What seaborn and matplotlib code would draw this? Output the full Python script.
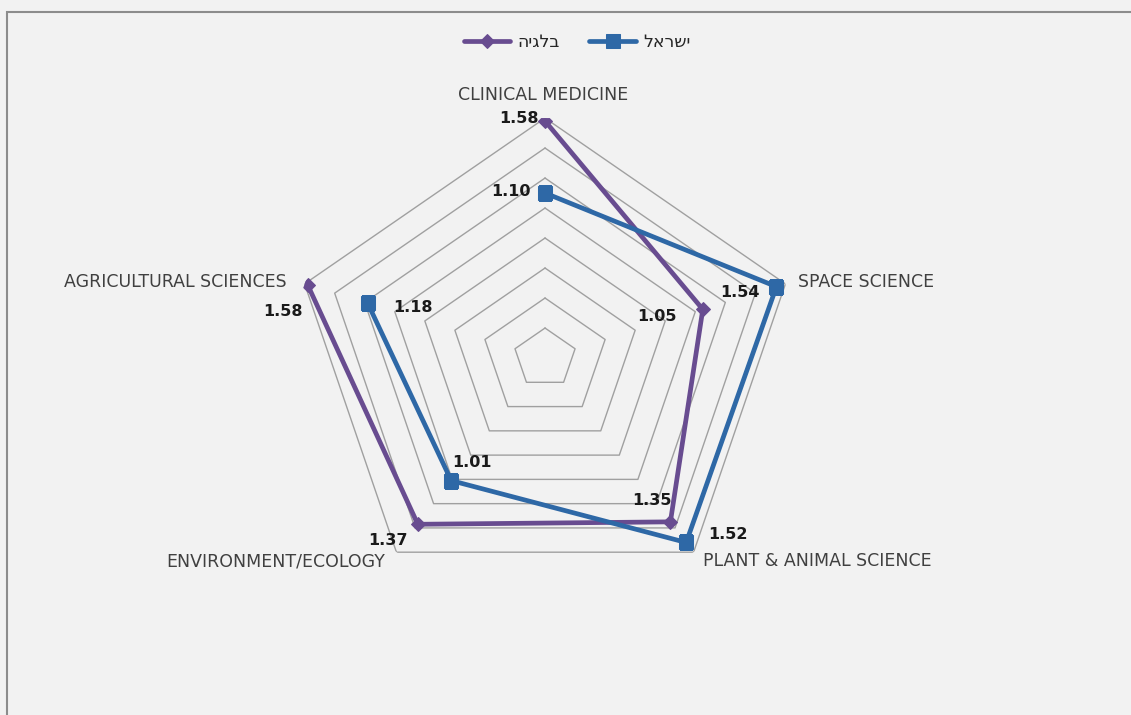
import numpy as np
import matplotlib
matplotlib.use('Agg')
import matplotlib.pyplot as plt
import matplotlib.patches as mpatches
import seaborn as sns

categories = ['CLINICAL MEDICINE', 'SPACE SCIENCE', 'PLANT & ANIMAL SCIENCE',
              'ENVIRONMENT/ECOLOGY', 'AGRICULTURAL SCIENCES']
belgium = [1.58, 1.05, 1.35, 1.37, 1.58]
israel = [1.10, 1.54, 1.52, 1.01, 1.18]
series_names = ['בלגיה', 'ישראל']
ring_levels = [0.2, 0.4, 0.6, 0.8, 1.0, 1.2, 1.4, 1.6]

sns.set_theme(style='white')
plt.rcParams['font.family'] = ['DejaVu Sans']

bg = '#f2f2f2'
purple = '#684c90'
blue = '#2e68a6'

fig = plt.figure(figsize=(11.31, 7.15), dpi=100, facecolor=bg)
ax = fig.add_axes([0.2584, 0.1636, 0.4470, 0.6713], projection='polar')
ax.set_aspect('auto')
ax.set_theta_offset(np.pi / 2)
ax.set_theta_direction(-1)
ax.patch.set_alpha(0)

n = len(categories)
theta = np.arange(n) * 2 * np.pi / n
theta_c = np.append(theta, theta[0])

# polygon rings
for lev in ring_levels:
    ax.plot(theta_c, [lev] * (n + 1), color='#a0a0a0', lw=1, zorder=1)

# matplotlib has no bidi support, so hebrew labels are reversed for display
sns.lineplot(x=theta_c, y=belgium + belgium[:1], ax=ax, sort=False, color=purple,
             lw=3.4, marker='D', markersize=7, markeredgecolor=purple,
             label=series_names[0][::-1], legend=False, zorder=3)
sns.lineplot(x=theta_c, y=israel + israel[:1], ax=ax, sort=False, color=blue,
             lw=3.4, marker='s', markersize=9.5, markeredgecolor=blue,
             label=series_names[1][::-1], legend=False, zorder=4)

ax.set_ylim(0, 1.6)
ax.grid(False)
ax.set_xticks([])
ax.set_yticks([])
ax.spines['polar'].set_visible(False)

# category labels
cat_pos = [((-2, 23), 'center'), ((13, 2), 'left'), ((9, -9), 'left'),
           ((-11, -9), 'right'), ((-18, 2), 'right')]
for t, name, (off, ha) in zip(theta, categories, cat_pos):
    ax.annotate(name, xy=(t, 1.6), xytext=off, textcoords='offset pixels',
                ha=ha, va='center', fontsize=12.5, color='#404040')

# value labels
bel_pos = [((-6, 3), 'right'), ((-26, -7), 'right'), ((1, 21), 'right'),
           ((-10, -16), 'right'), ((-5, -27), 'right')]
isr_pos = [((-14, 2), 'right'), ((-17, -6), 'right'), ((22, 8), 'left'),
           ((1, 18), 'left'), ((25, -4), 'left')]
for vals, pos in [(belgium, bel_pos), (israel, isr_pos)]:
    for t, v, (off, ha) in zip(theta, vals, pos):
        ax.annotate(f'{v:.2f}', xy=(t, v), xytext=off, textcoords='offset pixels',
                    ha=ha, va='center', fontsize=11.5, fontweight='bold', color='#1a1a1a')

handles, labels = ax.get_legend_handles_labels()
fig.legend(handles, labels, loc='center', bbox_to_anchor=(577 / 1131, 1 - 42 / 715),
           ncol=2, frameon=False, fontsize=12.5, handlelength=2.7,
           handletextpad=0.4, columnspacing=1.7)

# outer chart border
fig.patches.append(mpatches.Rectangle((7 / 1131, -0.1), 1.2, 1.1 - 12 / 715,
                                      transform=fig.transFigure, fill=False,
                                      edgecolor='#8c8c8c', lw=1.5))

fig.savefig('out.png', dpi=100, facecolor=bg)
